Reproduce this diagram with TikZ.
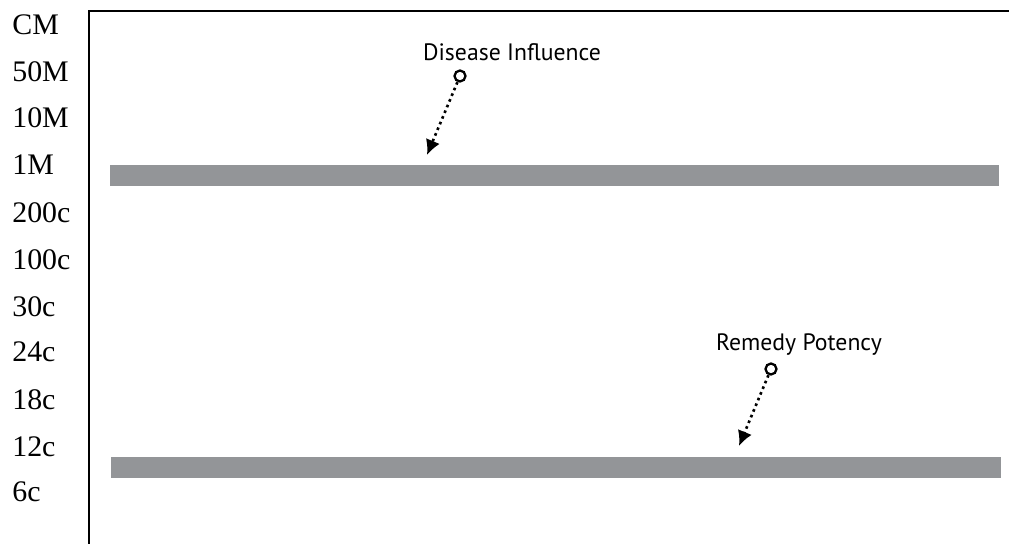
\documentclass[tikz,border=0pt]{standalone}
\usepackage{fontspec}
\setmainfont{Liberation Serif}
\newfontfamily\labelfont{PT Sans}
\usepackage{tikz}
\usetikzlibrary{arrows.meta, positioning}
\definecolor{bargray}{RGB}{147,149,152}

\begin{document}
\begin{tikzpicture}[
    x=0.02cm, y=-0.02cm,
    potency/.style={anchor=west, inner sep=0pt, font=\fontsize{17pt}{20pt}\selectfont},
    bar/.style={fill=bargray, draw=none},
    callout/.style={font=\labelfont\fontsize{13.5pt}{16pt}\selectfont, inner sep=0pt},
    ring/.style={circle, draw=black, line width=1.3pt, minimum size=0.22cm, inner sep=0pt},
    pointer/.style={-{Latex[length=3mm, width=3mm]}, dotted, line width=1.5pt},
]
    \useasboundingbox (0,0) rectangle (1009,544);

    % Frame
    \draw[line width=1.3pt] (89,544) -- (89,11) -- (1009,11);

    % Potency scale
    \node[potency] (cm)   at (12,25)  {CM};
    \node[potency] (m50)  at (12,72)  {50M};
    \node[potency] (m10)  at (12,118) {10M};
    \node[potency] (m1)   at (12,165) {1M};
    \node[potency] (c200) at (12,213) {200c};
    \node[potency] (c100) at (12,260) {100c};
    \node[potency] (c30)  at (12,307) {30c};
    \node[potency] (c24)  at (12,352) {24c};
    \node[potency] (c18)  at (12,400) {18c};
    \node[potency] (c12)  at (12,447) {12c};
    \node[potency] (c6)   at (12,492) {6c};

    % Bars
    \fill[bar] (110,165) rectangle (999,186);
    \fill[bar] (111,457) rectangle (1001,478);

    % Disease influence
    \node[callout] (disease) at (512,52) {Disease Influence};
    \node[ring] (dring) at (460,76) {};
    \coordinate (dtip) at (427,155);
    \draw[pointer] (dring) -- (dtip);

    % Remedy potency
    \node[callout] (remedy) at (799,345) {Remedy Potency};
    \node[ring] (rring) at (771,369) {};
    \coordinate (rtip) at (739,446);
    \draw[pointer] (rring) -- (rtip);

\end{tikzpicture}
\end{document}
